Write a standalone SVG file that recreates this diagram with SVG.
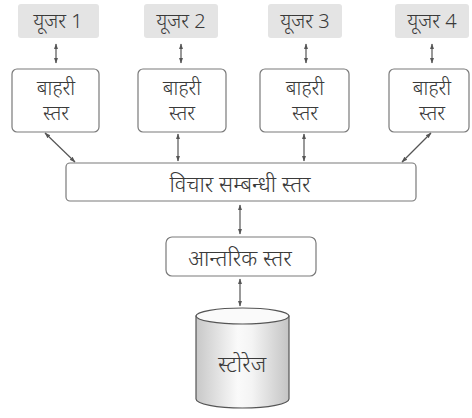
<svg xmlns="http://www.w3.org/2000/svg" width="472" height="418" viewBox="0 0 472 418">
<style>
.u{fill:#e4e4e4;stroke:none}
.b{fill:#fff;stroke:#7a7a7a;stroke-width:1.2}
.t{font-family:"Noto Sans","Liberation Sans",sans-serif;font-weight:300;fill:#3a3a3a;text-anchor:middle}
.e{font-size:20px}
.c{stroke:#555;stroke-width:1.2;fill:none;marker-start:url(#a);marker-end:url(#a)}
</style>
<defs>
<marker id="a" viewBox="0 0 10 10" refX="9" refY="5" markerWidth="6" markerHeight="6" orient="auto-start-reverse" markerUnits="userSpaceOnUse"><path d="M0,1.5 L10,5 L0,8.5 Z" fill="#555"/></marker>
<linearGradient id="g" x1="0" y1="0" x2="1" y2="0">
<stop offset="0" stop-color="#c8c8c8"/><stop offset="0.45" stop-color="#fafafa"/><stop offset="0.6" stop-color="#f4f4f4"/><stop offset="1" stop-color="#c4c4c4"/>
</linearGradient>
</defs>
<g id="user1"><rect class="u" x="18" y="4" width="81" height="34" rx="3"/><text class="t" x="58" y="28" font-size="20">यूजर 1</text></g>
<g id="user2"><rect class="u" x="144" y="4" width="74" height="34" rx="3"/><text class="t" x="181" y="28" font-size="20">यूजर 2</text></g>
<g id="user3"><rect class="u" x="268" y="4" width="74" height="34" rx="3"/><text class="t" x="305" y="28" font-size="20">यूजर 3</text></g>
<g id="user4"><rect class="u" x="395" y="4" width="74" height="34" rx="3"/><text class="t" x="432" y="28" font-size="20">यूजर 4</text></g>
<g id="ext1"><rect class="b" x="12" y="69" width="87" height="63" rx="5"/><text class="t e" x="56" y="95">बाहरी</text><text class="t e" x="56" y="120">स्तर</text></g>
<g id="ext2"><rect class="b" x="138" y="69" width="88" height="63" rx="5"/><text class="t e" x="182" y="95">बाहरी</text><text class="t e" x="182" y="120">स्तर</text></g>
<g id="ext3"><rect class="b" x="260" y="69" width="89" height="63" rx="5"/><text class="t e" x="305" y="95">बाहरी</text><text class="t e" x="305" y="120">स्तर</text></g>
<g id="ext4"><rect class="b" x="389" y="69" width="80" height="63" rx="5"/><text class="t e" x="432" y="95">बाहरी</text><text class="t e" x="432" y="120">स्तर</text></g>
<g id="conceptual"><rect class="b" x="66" y="163" width="350" height="38" rx="4"/><text class="t" x="240" y="192" font-size="22">विचार सम्बन्धी स्तर</text></g>
<g id="internal"><rect class="b" x="166" y="237" width="150" height="39" rx="6"/><text class="t" x="240" y="266" font-size="22">आन्तरिक स्तर</text></g>
<g id="storage">
<path d="M196,316 L196,399 A46.5,9 0 0 0 289,399 L289,316 Z" fill="url(#g)" stroke="#555" stroke-width="1.2"/>
<ellipse cx="242.5" cy="316" rx="46.5" ry="8" fill="#fafafa" stroke="#555" stroke-width="1.2"/>
<text class="t" x="242" y="372" font-size="22">स्टोरेज</text>
</g>
<g id="connectors">
<line class="c" x1="56" y1="44" x2="56" y2="63"/>
<line class="c" x1="181" y1="44" x2="181" y2="63"/>
<line class="c" x1="306" y1="44" x2="306" y2="63"/>
<line class="c" x1="432" y1="44" x2="432" y2="63"/>
<line class="c" x1="45" y1="133" x2="75" y2="162"/>
<line class="c" x1="178" y1="134" x2="178" y2="161"/>
<line class="c" x1="304" y1="134" x2="304" y2="161"/>
<line class="c" x1="431" y1="133" x2="402" y2="162"/>
<line class="c" x1="240" y1="205" x2="240" y2="234"/>
<line class="c" x1="240" y1="279" x2="240" y2="306"/>
</g>
</svg>
